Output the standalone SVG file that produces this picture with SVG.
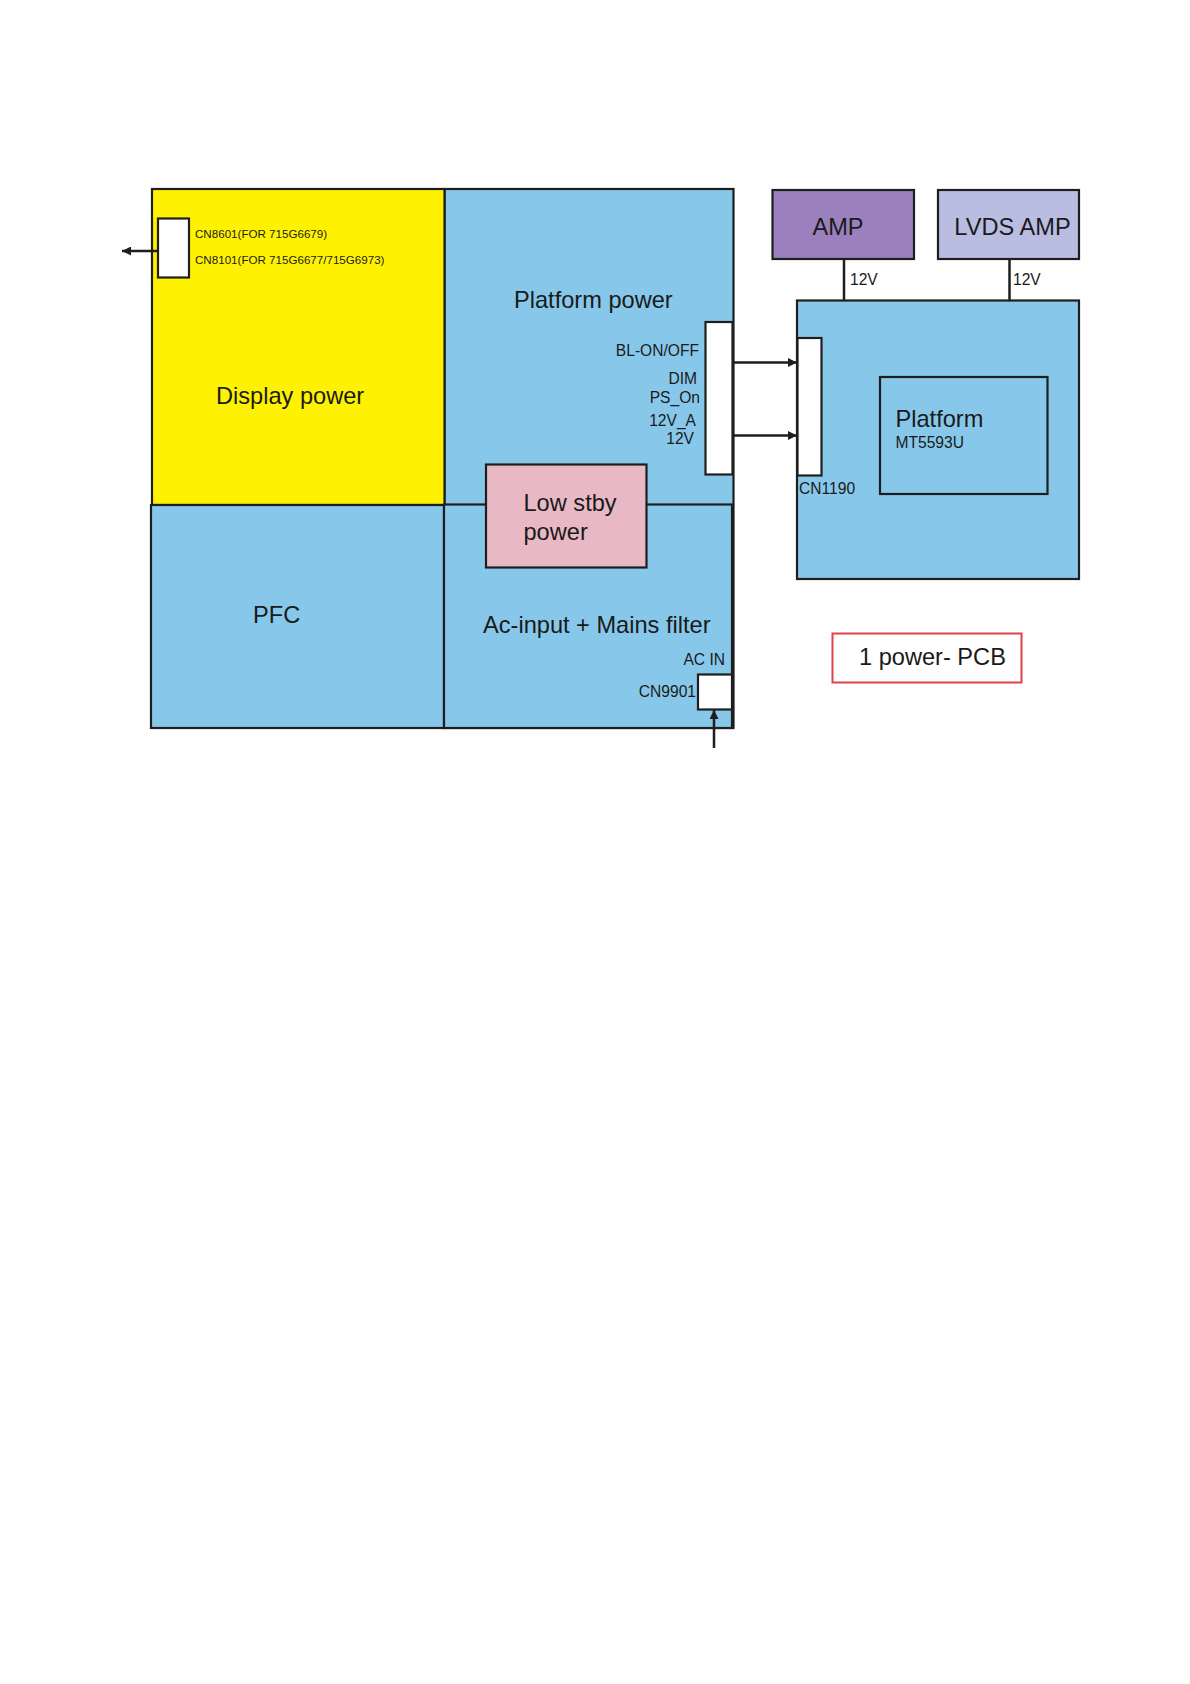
<svg xmlns="http://www.w3.org/2000/svg" width="1190" height="1684" viewBox="0 0 1190 1684">
<style>
.box{stroke:#1e1e1e;stroke-width:2.2}
.blue{fill:#87c8ea}
.white{fill:#ffffff}
.t{font-family:"Liberation Sans",Arial,sans-serif;fill:#1a1a1a}
.big{font-size:23.6px}
.sm{font-size:15.6px}
.xs{font-size:11.6px}
.wire{stroke:#1e1e1e;stroke-width:2.5;fill:none}
</style>
<defs>
<marker id="ah" viewBox="0 0 10 10" refX="10" refY="5" markerWidth="11" markerHeight="9" markerUnits="userSpaceOnUse" orient="auto">
<path d="M0,0 L10,5 L0,10 z" fill="#1e1e1e"/>
</marker>
</defs>
<rect width="1190" height="1684" fill="#fefefe"/>

<g id="platform-power">
<rect class="box blue" x="444.5" y="189" width="289" height="539"/>
<text class="t big" x="514" y="308">Platform power</text>
</g>
<g id="display-power">
<rect class="box" fill="#fff200" x="152" y="189" width="292.5" height="316"/>
<text class="t big" x="216" y="404">Display power</text>
</g>
<g id="cn8601">
<rect class="box white" x="158" y="218.5" width="31" height="59"/>
<text class="t xs" x="195" y="238">CN8601(FOR 715G6679)</text>
<text class="t xs" x="195" y="264">CN8101(FOR 715G6677/715G6973)</text>
</g>
<g id="pfc">
<rect class="box blue" x="151" y="505" width="293" height="223"/>
<text class="t big" x="253" y="623">PFC</text>
</g>
<g id="ac-input">
<rect class="box blue" x="444" y="504.5" width="288" height="223.5"/>
<text class="t big" x="483" y="633">Ac-input + Mains filter</text>
<text class="t sm" x="725" y="665" text-anchor="end">AC IN</text>
</g>
<g id="cn9901">
<rect class="box white" x="698" y="674.5" width="34" height="35"/>
<text class="t sm" x="696" y="697" text-anchor="end">CN9901</text>
</g>
<g id="low-stby">
<rect class="box" fill="#e8b8c4" x="486" y="464.5" width="160.5" height="103"/>
<text class="t big" x="523.5" y="511">Low stby</text>
<text class="t big" x="523.5" y="540">power</text>
</g>
<g id="platform-connector">
<rect class="box white" x="705.5" y="322" width="27" height="152.5"/>
<text class="t sm" x="699" y="356" text-anchor="end">BL-ON/OFF</text>
<text class="t sm" x="697" y="384" text-anchor="end">DIM</text>
<text class="t sm" x="700" y="402.5" text-anchor="end">PS_On</text>
<text class="t sm" x="696" y="426" text-anchor="end">12V_A</text>
<text class="t sm" x="694" y="444" text-anchor="end">12V</text>
</g>
<g id="amp">
<rect class="box" fill="#9a80bc" x="772.5" y="190" width="141.5" height="69"/>
<text class="t big" x="838" y="235" text-anchor="middle">AMP</text>
</g>
<g id="lvds-amp">
<rect class="box" fill="#b9bde1" x="938" y="190" width="141" height="69"/>
<text class="t big" x="1012.5" y="235" text-anchor="middle">LVDS AMP</text>
</g>
<g id="platform-board">
<rect class="box blue" x="797" y="300.5" width="282" height="278.5"/>
</g>
<g id="cn1190">
<rect class="box white" x="797.5" y="338" width="24" height="137.5"/>
<text class="t sm" x="799" y="494">CN1190</text>
</g>
<g id="platform-mt5593u">
<rect class="box blue" x="880" y="377" width="167.5" height="117"/>
<text class="t big" x="895.5" y="427">Platform</text>
<text class="t sm" x="895.5" y="448">MT5593U</text>
</g>
<g id="pcb-label">
<rect fill="#ffffff" stroke="#e0404a" stroke-width="2" x="832.5" y="633.5" width="189" height="49"/>
<text class="t big" x="859" y="665">1 power- PCB</text>
</g>

<g id="connectors">
<line class="wire" x1="158" y1="251" x2="122" y2="251" marker-end="url(#ah)"/>
<line class="wire" x1="733" y1="362.5" x2="797" y2="362.5" marker-end="url(#ah)"/>
<line class="wire" x1="733" y1="435.5" x2="797" y2="435.5" marker-end="url(#ah)"/>
<line class="wire" x1="714" y1="748" x2="714" y2="710" marker-end="url(#ah)"/>
<line class="wire" x1="844" y1="259" x2="844" y2="300.5"/>
<line class="wire" x1="1009.5" y1="259" x2="1009.5" y2="300.5"/>
<text class="t sm" x="850" y="285">12V</text>
<text class="t sm" x="1013" y="285">12V</text>
</g>
</svg>
